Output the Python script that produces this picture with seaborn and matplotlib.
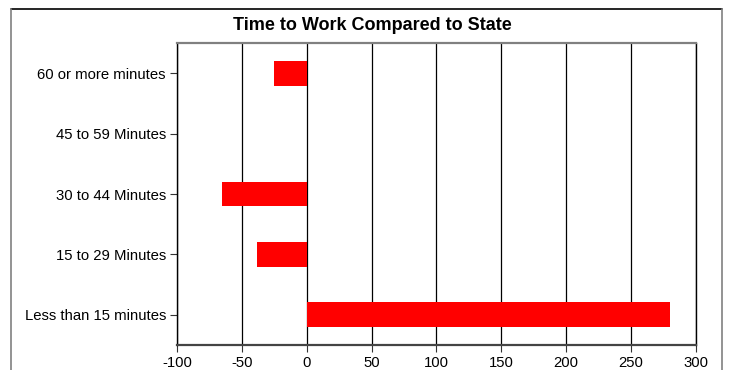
import pandas as pd
import matplotlib.pyplot as plt
import seaborn as sns
from matplotlib.lines import Line2D

# --- data ---
categories = ['60 or more minutes', '45 to 59 Minutes', '30 to 44 Minutes',
              '15 to 29 Minutes', 'Less than 15 minutes']
diff_vs_state = [-25, 0, -65, -38, 280]
x_ticks = [-100, -50, 0, 50, 100, 150, 200, 250, 300]

df = pd.DataFrame({'Category': categories, 'Difference': diff_vs_state})

sns.set_style('white')
plt.rcParams['font.family'] = ['Liberation Sans', 'DejaVu Sans']
plt.rcParams['text.color'] = 'black'
plt.rcParams['xtick.color'] = 'black'
plt.rcParams['ytick.color'] = 'black'

fig = plt.figure(figsize=(7.31, 3.70), dpi=100)
ax = fig.add_axes([177 / 731, 1 - 345 / 370, (695.7 - 177) / 731, (345 - 43) / 370])

sns.barplot(data=df, x='Difference', y='Category', orient='h', color='#FF0000',
            saturation=1, width=0.41, linewidth=0, ax=ax)

ax.set_xlim(-100, 300)
ax.set_xticks(x_ticks)
ax.set_xticklabels([str(t) for t in x_ticks], fontsize=10.7)
ax.tick_params(axis='y', labelsize=10.7, length=5, width=0.8, color='#333333', pad=3, left=True)
ax.tick_params(axis='x', length=5, width=0.8, color='#333333', pad=3, bottom=True)
ax.set_xlabel('')
ax.set_ylabel('')

# vertical gridlines behind bars
ax.set_axisbelow(True)
ax.xaxis.grid(True, color='black', linewidth=0.9)
ax.yaxis.grid(False)

for side in ['left', 'right']:
    ax.spines[side].set_color('black')
    ax.spines[side].set_linewidth(1.0)
ax.spines['top'].set_color('#808080')
ax.spines['top'].set_linewidth(1.6)
ax.spines['bottom'].set_color('#444444')
ax.spines['bottom'].set_linewidth(1.6)
for s in ax.spines.values():
    s.set_visible(True)

fig.text(372 / 731, 1 - 26 / 370, 'Time to Work Compared to State',
         ha='center', va='center', fontsize=13, fontweight='bold')

# outer frame (bottom edge cut off)
fl, fr, ft = 10.7 / 731, 721.7 / 731, 1 - 9.3 / 370
fig.add_artist(Line2D([fl, fr], [ft, ft], color='black', lw=1.2, transform=fig.transFigure))
fig.add_artist(Line2D([fl, fl], [ft, 0], color='#808080', lw=1.2, transform=fig.transFigure))
fig.add_artist(Line2D([fr, fr], [ft, 0], color='#808080', lw=1.2, transform=fig.transFigure))

fig.savefig('out.png', dpi=100)
